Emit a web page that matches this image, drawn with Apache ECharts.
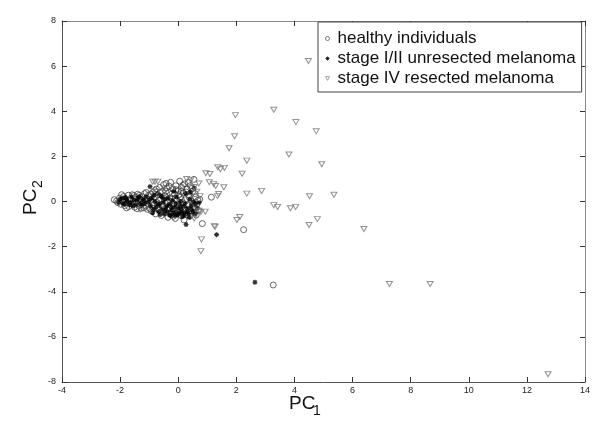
<!DOCTYPE html>
<html><head><meta charset="utf-8">
<script src="https://cdn.jsdelivr.net/npm/echarts@6/dist/echarts.min.js"></script>
<style>html,body{margin:0;padding:0;background:#fff}#c{width:601px;height:422px}</style>
</head><body><div id="c"></div>
<script>
var seriesNames = ['healthy individuals', 'stage I/II unresected melanoma', 'stage IV resected melanoma'];
var xTicks = [-4, -2, 0, 2, 4, 6, 8, 10, 12, 14];
var yTicks = [-8, -6, -4, -2, 0, 2, 4, 6, 8];

var healthy = [
 [-2.20,0.08],[-2.08,-0.05],[-2.02,0.15],[-1.98,-0.12],[-1.92,0.05],[-1.88,0.22],[-1.85,-0.18],[-1.80,0.10],[-1.76,-0.05],[-1.72,0.28],
 [-1.70,-0.22],[-1.65,0.12],[-1.62,-0.10],[-1.58,0.30],[-1.55,0.02],[-1.50,-0.25],[-1.48,0.18],[-1.44,-0.05],[-1.40,0.32],[-1.36,-0.18],
 [-1.32,0.10],[-1.28,-0.30],[-1.25,0.22],[-1.20,-0.02],[-1.16,0.35],[-1.12,-0.20],[-1.08,0.12],[-1.05,-0.35],[-1.02,0.28],
 [-0.95,0.05],[-0.92,-0.42],[-0.88,0.40],[-0.85,-0.15],[-0.82,0.20],[-0.78,-0.55],[-0.75,0.55],[-0.72,-0.05],[-0.70,0.30],[-0.66,-0.38],
 [-0.64,0.62],[-0.60,0.10],[-0.58,-0.62],[-0.55,0.45],[-0.52,-0.20],[-0.50,0.75],[-0.46,0.25],[-0.44,-0.48],[-0.40,0.60],[-0.38,0.00],
 [-0.35,-0.70],[-0.32,0.40],[-0.30,-0.28],[-0.26,0.85],[-0.24,0.15],[-0.22,-0.58],[-0.18,0.55],[-0.15,-0.10],[-0.12,0.32],[-0.10,-0.75],
 [-0.08,0.70],[-0.05,0.05],[-0.02,-0.45],[0.00,0.48],[0.03,-0.20],[0.05,0.90],[0.08,0.20],[0.10,-0.62],[0.12,0.62],[0.15,-0.05],
 [0.18,0.38],[0.20,-0.82],[0.22,0.78],[0.25,0.08],[0.28,-0.40],[0.30,0.55],[0.33,-0.15],[0.36,0.30],[0.40,-0.65],[0.42,0.70],
 [0.45,0.02],[0.48,-0.30],[0.50,0.45],[0.54,0.98],[0.56,-0.50],[0.60,0.20],[0.64,-0.12],[0.70,-0.40],[0.74,0.10],
 [-2.12,0.02],[-1.95,0.30],[-1.78,-0.28],[-1.67,0.05],[-1.53,0.26],[-1.42,-0.32],[-1.34,0.27],[-1.18,-0.28],[-1.10,0.40],[-0.98,-0.30],
 [-0.93,0.33],[-0.87,-0.05],[-0.81,0.48],[-0.73,-0.30],[-0.67,0.05],[-0.62,0.40],[-0.57,-0.12],[-0.49,0.15],[-0.43,0.45],[-0.37,-0.35],
 [-0.31,0.68],[-0.27,-0.02],[-0.21,0.35],[-0.16,-0.65],[-0.11,0.12],[-0.07,0.52],[-0.03,-0.15],[0.02,0.30],[0.06,-0.38],[0.11,0.08],
 [0.16,0.72],[0.21,-0.30],[0.27,0.42],[0.31,-0.58],[0.38,0.18],[0.43,-0.42],[0.47,0.58],[0.52,-0.10],[0.58,0.35],[0.62,-0.60],
 [0.68,0.05],[0.35,0.85],[-0.42,0.80],[0.10,0.45],
 [1.14,0.19],[0.83,-0.98],[2.25,-1.25],[3.27,-3.70]
];

var stage12 = [
 [-2.00,0.10],[-1.90,-0.08],[-1.82,0.18],[-1.75,0.00],[-1.68,-0.15],[-1.60,0.20],[-1.52,0.05],[-1.45,-0.15],[-1.38,0.15],[-1.30,-0.08],
 [-1.22,0.10],[-1.15,-0.10],[-1.10,0.20],[-1.03,-0.02],
 [-0.95,-0.20],[-0.90,0.15],[-0.85,-0.35],[-0.80,0.00],[-0.76,-0.25],[-0.72,0.35],[-0.68,-0.45],[-0.64,-0.15],[-0.60,0.25],[-0.56,-0.35],
 [-0.52,-0.05],[-0.48,-0.55],[-0.45,0.10],[-0.42,-0.25],[-0.38,-0.45],[-0.34,0.15],[-0.30,-0.60],[-0.28,-0.10],[-0.24,-0.38],[-0.20,0.05],
 [-0.18,-0.52],[-0.14,-0.25],[-0.10,-0.45],[-0.06,0.20],[-0.04,-0.60],[0.00,-0.30],[0.04,-0.50],[0.08,0.00],[0.10,-0.35],[0.14,-0.68],
 [0.18,-0.20],[0.22,-0.50],[0.26,0.35],[0.30,-0.30],[0.35,-0.55],[0.40,0.10],[0.44,-0.20],[0.50,-0.45],[0.55,0.60],[0.60,-0.10],
 [0.66,-0.30],[0.72,-0.05],
 [-2.05,-0.04],[-1.93,0.14],[-1.86,-0.12],[-1.78,0.08],[-1.64,-0.05],[-1.56,-0.20],[-1.41,0.05],[-1.34,0.22],[-1.26,-0.18],[-1.18,0.02],
 [-0.98,0.08],[-0.88,-0.50],[-0.83,0.28],[-0.70,-0.10],[-0.62,-0.58],[-0.54,0.18],[-0.46,-0.40],[-0.36,-0.18],[-0.26,-0.62],[-0.22,-0.28],
 [-0.12,-0.62],[-0.08,-0.10],[0.02,-0.55],[0.06,-0.18],[0.12,-0.50],[0.20,-0.62],[0.24,-0.08],[0.32,-0.45],[0.38,-0.70],[0.46,-0.35],
 [0.58,-0.55],[0.42,0.42],[-0.15,0.45],
 [-0.97,0.66],[0.27,-1.02],[0.52,-0.02],[1.32,-1.47],[2.64,-3.58]
];

var stage4 = [
 [4.48,6.23],[3.29,4.07],[1.97,3.83],[4.05,3.52],[4.75,3.11],[1.94,2.89],[1.75,2.36],[3.81,2.08],[2.36,1.81],[4.94,1.65],
 [1.36,1.52],[1.45,1.43],[1.59,1.49],[2.20,1.23],[0.95,1.25],[1.09,1.22],[0.29,1.00],[0.43,0.94],[0.71,0.80],
 [1.07,0.85],[1.22,0.78],[1.29,0.69],[1.57,0.63],[0.55,0.64],[0.64,0.43],[0.75,0.24],[1.39,0.33],[1.35,0.24],
 [2.36,0.35],[2.87,0.47],[4.52,0.23],[5.36,0.30],[3.29,-0.16],[3.42,-0.24],[3.86,-0.30],[4.04,-0.24],[4.79,-0.78],[4.50,-1.04],
 [2.12,-0.69],[2.02,-0.82],[1.27,-1.12],[1.24,-1.09],[0.80,-1.68],[0.78,-2.20],[6.39,-1.22],
 [0.72,-0.41],[0.78,-0.47],[0.93,-0.45],[0.55,-0.75],
 [-0.88,0.88],[-0.80,0.88],[-0.70,0.88],[-0.74,0.42],[-1.31,-0.35],
 [7.27,-3.66],[8.67,-3.66],[12.73,-7.66]
];

var FONT = 'Liberation Sans, Arial, Helvetica, sans-serif';
var triDown = 'path://M0,0L10,0L5,9Z';
var star = 'path://M5,0L5,10M0,5L10,5M1.5,1.5L8.5,8.5M8.5,1.5L1.5,8.5';

var chart = echarts.init(document.getElementById('c'), null, {renderer: 'canvas'});
var axisBase = function (pos, show) {
  return {
    position: pos, type: 'value',
    axisLine: {show: true, onZero: false, lineStyle: {color: show ? '#555' : '#888', width: 1}},
    axisTick: {show: true, inside: true, length: 5, lineStyle: {color: '#333'}},
    splitLine: {show: false},
    axisLabel: {show: show, fontSize: 9, color: '#222', fontFamily: FONT},
  };
};
var xa = axisBase('bottom', true);
Object.assign(xa, {min: xTicks[0], max: xTicks[xTicks.length-1], interval: 2});
xa.axisLabel.margin = 4;
var xa2 = axisBase('top', false);
Object.assign(xa2, {min: xTicks[0], max: xTicks[xTicks.length-1], interval: 2});
var ya = axisBase('left', true);
Object.assign(ya, {min: yTicks[0], max: yTicks[yTicks.length-1], interval: 2});
ya.axisLabel.margin = 6;
var ya2 = axisBase('right', false);
Object.assign(ya2, {min: yTicks[0], max: yTicks[yTicks.length-1], interval: 2});

chart.setOption({
  animation: false,
  backgroundColor: '#fff',
  grid: {left: 62, top: 21, right: 16, bottom: 40},
  xAxis: [xa, xa2],
  yAxis: [ya, ya2],
  legend: {
    left: 318, top: 22, orient: 'vertical',
    backgroundColor: '#fff', borderColor: '#444', borderWidth: 1, borderRadius: 0,
    padding: [8, 6, 5, 7], itemGap: 3, itemWidth: 4, itemHeight: 4,
    textStyle: {fontSize: 17, color: '#111', fontFamily: FONT, padding: [0, 0, 0, 3]},
    data: [
      {name: seriesNames[0], itemStyle: {color: 'rgba(0,0,0,0)', borderColor: '#555', borderWidth: 1}},
      {name: seriesNames[1], itemStyle: {color: '#000', borderColor: '#000', borderWidth: 1}},
      {name: seriesNames[2], itemStyle: {color: 'rgba(0,0,0,0)', borderColor: '#888', borderWidth: 1}}
    ]
  },
  graphic: [
    {type: 'text', left: 289, top: 394, style: {text: 'PC', font: '19px ' + FONT, fill: '#111'}},
    {type: 'text', left: 313, top: 404, style: {text: '1', font: '14px ' + FONT, fill: '#111'}},
    {type: 'text', x: 21, y: 215, rotation: Math.PI/2, style: {text: 'PC', font: '19px ' + FONT, fill: '#111'}},
    {type: 'text', x: 31, y: 188, rotation: Math.PI/2, style: {text: '2', font: '14px ' + FONT, fill: '#111'}}
  ],
  series: [
    {name: seriesNames[0], type: 'scatter', data: healthy, symbol: 'circle', symbolSize: 6,
     itemStyle: {color: 'rgba(0,0,0,0)', borderColor: '#444', borderWidth: 1}},
    {name: seriesNames[1], type: 'scatter', data: stage12, symbol: star, symbolSize: 5,
     itemStyle: {color: '#000', borderColor: '#000', borderWidth: 1.2}},
    {name: seriesNames[2], type: 'scatter', data: stage4, symbol: triDown, symbolSize: [6, 5],
     itemStyle: {color: 'rgba(0,0,0,0)', borderColor: '#777', borderWidth: 1}}
  ]
});
</script></body></html>
